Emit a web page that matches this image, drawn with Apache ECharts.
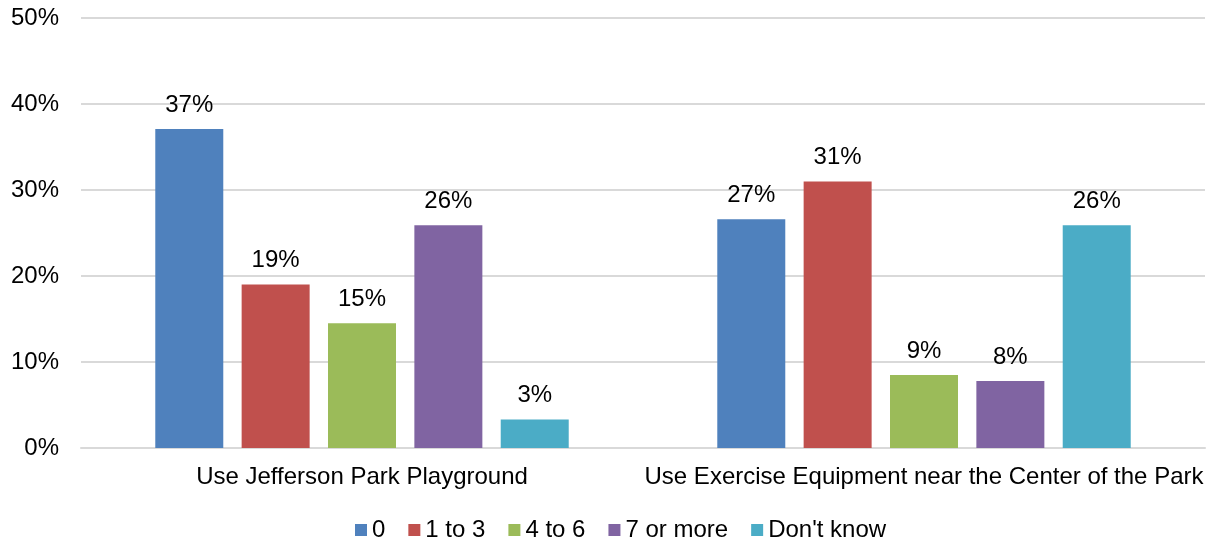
<!DOCTYPE html>
<html>
<head>
<meta charset="utf-8">
<script src="https://cdn.jsdelivr.net/npm/echarts@6/dist/echarts.min.js"></script>
<style>html,body{margin:0;padding:0;background:#fff;}#c{width:1210px;height:539px;}</style>
</head>
<body>
<div id="c"></div>
<script>
const categories = ['Use Jefferson Park Playground', 'Use Exercise Equipment near the Center of the Park'];
const seriesNames = ['0', '1 to 3', '4 to 6', '7 or more', "Don't know"];
const s0 = [37.1, 26.6];
const s1 = [19.0, 31.0];
const s2 = [14.5, 8.5];
const s3 = [25.9, 7.8];
const s4 = [3.3, 25.9];
const yTicks = [0, 10, 20, 30, 40, 50];
const colors = ['#4F81BD', '#C0504D', '#9BBB59', '#8064A2', '#4BACC6'];

const font = 'Liberation Sans, Arial, sans-serif';
const allData = [s0, s1, s2, s3, s4];
const chart = echarts.init(document.getElementById('c'));
chart.setOption({
  animation: false,
  textStyle: { fontFamily: font },
  grid: { left: 81, right: 5, top: 18, bottom: 91, containLabel: false },
  legend: {
    top: 513, left: 350,
    itemWidth: 12, itemHeight: 12, itemGap: 23,
    icon: 'rect',
    textStyle: { fontSize: 24, color: '#000', fontFamily: font },
    data: seriesNames
  },
  xAxis: {
    type: 'category', data: categories,
    axisLine: { lineStyle: { color: '#D9D9D9', width: 2 } },
    axisTick: { show: false },
    axisLabel: { fontSize: 24, color: '#000', margin: 17, fontFamily: font, interval: 0 }
  },
  yAxis: {
    type: 'value', min: yTicks[0], max: yTicks[yTicks.length - 1], interval: 10,
    axisLine: { show: false }, axisTick: { show: false },
    splitLine: { lineStyle: { color: '#D9D9D9', width: 2 } },
    axisLabel: { fontSize: 24, color: '#000', margin: 22, fontFamily: font, formatter: v => v + '%' }
  },
  series: allData.map((d, i) => ({
    name: seriesNames[i], type: 'bar', data: d,
    barWidth: 68, barGap: '27%',
    itemStyle: { color: colors[i] },
    label: { show: true, position: 'top', distance: 12, fontSize: 24, color: '#000', fontFamily: font,
      formatter: p => Math.round(p.value) + '%' }
  }))
});
</script>
</body>
</html>
